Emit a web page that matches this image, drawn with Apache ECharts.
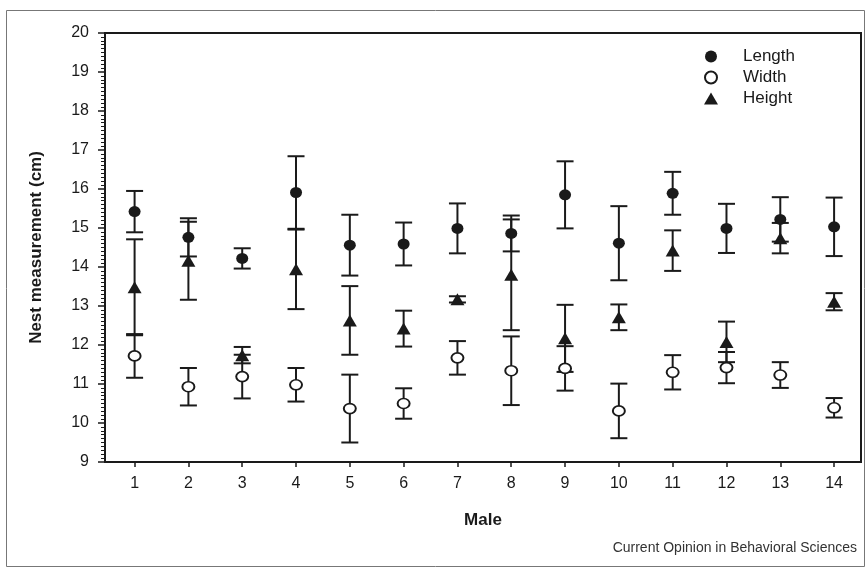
<!DOCTYPE html>
<html lang="en">
<head>
  <meta charset="UTF-8" />
  <title>Nest measurement by male</title>
  <script src="https://cdn.jsdelivr.net/npm/echarts@6/dist/echarts.min.js"></script>
  <style>
    html, body { margin: 0; padding: 0; background: #fff; }
    #chart { width: 867px; height: 567px; }
  </style>
</head>
<body>
  <div id="chart"></div>
  <script>
    // data (mean and error half-width, cm)
    const males = [1, 2, 3, 4, 5, 6, 7, 8, 9, 10, 11, 12, 13, 14];
    const lengthMean = [15.42, 14.76, 14.22, 15.91, 14.56, 14.59, 14.99, 14.86, 15.85, 14.61, 15.89, 14.99, 15.22, 15.03];
    const lengthErr = [0.53, 0.49, 0.26, 0.93, 0.78, 0.55, 0.64, 0.46, 0.86, 0.95, 0.55, 0.63, 0.57, 0.75];
    const widthMean = [11.72, 10.93, 11.19, 10.98, 10.37, 10.50, 11.67, 11.34, 11.40, 10.31, 11.30, 11.42, 11.23, 10.39];
    const widthErr = [0.56, 0.48, 0.56, 0.43, 0.87, 0.39, 0.43, 0.88, 0.57, 0.70, 0.44, 0.40, 0.33, 0.25];
    const heightMean = [13.48, 14.16, 11.74, 13.94, 12.63, 12.42, 13.17, 13.80, 12.17, 12.71, 14.42, 12.08, 14.74, 13.11];
    const heightErr = [1.23, 1.00, 0.21, 1.02, 0.88, 0.46, 0.08, 1.42, 0.86, 0.33, 0.52, 0.52, 0.39, 0.22];

    const FONT = "'Liberation Sans', Arial, sans-serif";
    const INK = '#1a1a1a';

    const chart = echarts.init(document.getElementById('chart'));

    function points(means) {
      return males.map((m, i) => [m, means[i]]);
    }

    function bars(means, errs) {
      return males.map((m, i) => [m, means[i] - errs[i], means[i] + errs[i]]);
    }

    function renderErrorBar(params, api) {
      const x = api.value(0);
      const lo = api.coord([x, api.value(1)]);
      const hi = api.coord([x, api.value(2)]);
      const half = 8.5;
      const style = { stroke: INK, lineWidth: 2 };
      return {
        type: 'group',
        children: [
          { type: 'line', shape: { x1: lo[0], y1: lo[1], x2: hi[0], y2: hi[1] }, style: style },
          { type: 'line', shape: { x1: lo[0] - half, y1: lo[1], x2: lo[0] + half, y2: lo[1] }, style: style },
          { type: 'line', shape: { x1: hi[0] - half, y1: hi[1], x2: hi[0] + half, y2: hi[1] }, style: style }
        ]
      };
    }

    function errorSeries(name, means, errs) {
      return {
        name: name,
        type: 'custom',
        renderItem: renderErrorBar,
        data: bars(means, errs),
        encode: { x: 0, y: [1, 2] },
        z: 1,
        silent: true
      };
    }

    const option = {
      animation: false,
      backgroundColor: '#fff',
      grid: { left: 105, right: 6, top: 33, bottom: 105, show: true, borderColor: INK, borderWidth: 2 },
      legend: {
        orient: 'vertical',
        left: 699,
        top: 43,
        itemWidth: 14,
        itemHeight: 12,
        itemGap: 4,
        symbolKeepAspect: true,
        data: ['Length', 'Width', 'Height'],
        textStyle: { fontFamily: FONT, fontSize: 17, color: INK, padding: [0, 0, 0, 20] }
      },
      xAxis: {
        type: 'value',
        min: 0.45,
        max: 14.5,
        name: 'Male',
        nameLocation: 'middle',
        nameGap: 50,
        nameTextStyle: { fontFamily: FONT, fontSize: 17, fontWeight: 'bold', color: INK },
        splitLine: { show: false },
        axisLine: { lineStyle: { color: INK, width: 2 } },
        axisTick: { customValues: males, length: 5, lineStyle: { color: INK, width: 1.5 } },
        axisLabel: { customValues: males, margin: 14, fontFamily: FONT, fontSize: 16, color: INK }
      },
      yAxis: {
        type: 'value',
        min: 9,
        max: 20,
        interval: 1,
        name: 'Nest measurement (cm)',
        nameLocation: 'middle',
        nameGap: 60,
        nameTextStyle: { fontFamily: FONT, fontSize: 17, fontWeight: 'bold', color: INK },
        splitLine: { show: false },
        axisLine: { lineStyle: { color: INK, width: 2 } },
        axisTick: { length: 7, lineStyle: { color: INK, width: 1.5 } },
        minorTick: { show: true, splitNumber: 10, length: 4, lineStyle: { color: INK, width: 1 } },
        axisLabel: { margin: 16, fontFamily: FONT, fontSize: 16, color: INK }
      },
      series: [
        errorSeries('Length SE', lengthMean, lengthErr),
        errorSeries('Height SE', heightMean, heightErr),
        errorSeries('Width SE', widthMean, widthErr),
        {
          name: 'Length',
          type: 'scatter',
          data: points(lengthMean),
          symbol: 'circle',
          symbolSize: [12, 11],
          itemStyle: { color: INK, opacity: 1 },
          z: 3
        },
        {
          name: 'Height',
          type: 'scatter',
          data: points(heightMean),
          symbol: 'triangle',
          symbolSize: [14, 12],
          itemStyle: { color: INK, opacity: 1 },
          z: 3
        },
        {
          name: 'Width',
          type: 'scatter',
          data: points(widthMean),
          symbol: 'circle',
          symbolSize: [12, 10],
          itemStyle: { color: '#fff', borderColor: INK, borderWidth: 1.8, opacity: 1 },
          z: 3
        }
      ],
      graphic: [
        {
          type: 'rect',
          left: 4,
          top: 8,
          shape: { width: 858, height: 556 },
          style: { fill: null, stroke: '#777', lineWidth: 1 },
          silent: true
        },
        {
          type: 'text',
          right: 10,
          top: 541,
          style: { text: 'Current Opinion in Behavioral Sciences', font: '14px ' + FONT, fill: '#333' }
        }
      ]
    };

    chart.setOption(option);
  </script>
</body>
</html>
